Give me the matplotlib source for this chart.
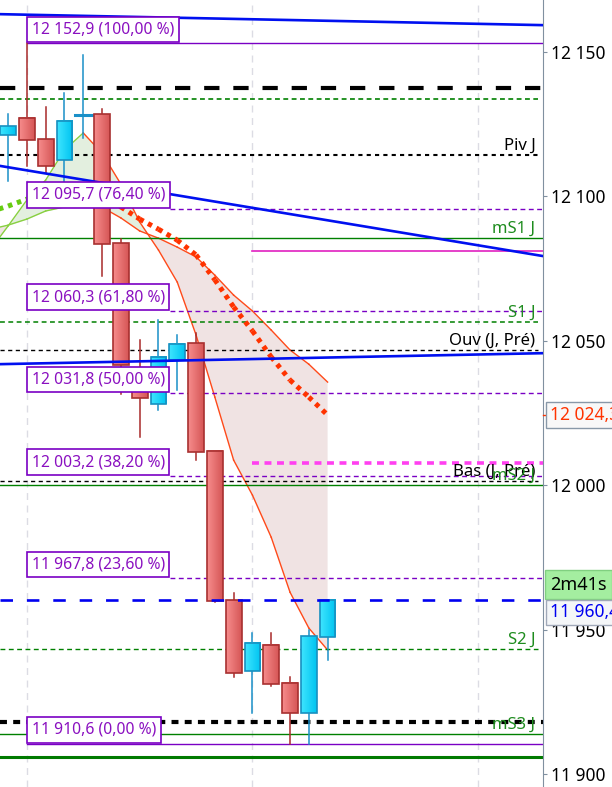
import matplotlib.pyplot as plt
import numpy as np
from matplotlib.patches import Rectangle
from matplotlib.colors import LinearSegmentedColormap

plt.rcParams['font.family'] = ['Noto Sans', 'DejaVu Sans']
plt.rcParams['lines.scale_dashes'] = False

# candles (one bar per index)
opens = [12121.2, 12127.1, 12119.8, 12112.5, 12128.0, 12128.4, 12083.8, 12032.6, 12028.1,
         12043.3, 12049.2, 12011.8, 11960.2, 11935.7, 11944.7, 11931.6, 11921.2, 11947.5]
highs = [12128.4, 12152.9, 12130.9, 12135.7, 12148.9, 12130.2, 12085.2, 12050.2, 12057.2,
         12052.0, 12052.7, 12011.8, 11962.7, 11948.9, 11948.9, 11933.6, 11949.9, 11960.4]
lows = [12105.3, 12110.5, 12108.0, 12104.6, 12120.1, 12072.4, 12031.5, 12016.7, 12026.0,
        12032.9, 12008.7, 11959.5, 11933.6, 11921.2, 11930.5, 11910.6, 11910.6, 11939.5]
closes = [12124.3, 12119.4, 12110.5, 12126.0, 12128.2, 12083.5, 12041.6, 12030.2, 12044.4,
          12048.9, 12011.5, 11959.9, 11935.0, 11945.4, 11931.2, 11921.2, 11947.8, 11960.4]

# band lines (index -1 .. 17)
band_idx = list(range(-1, 18))
fast = [12081.0, 12089.7, 12098.7, 12105.6, 12116.0, 12121.9, 12114.9, 12104.2, 12091.1, 12081.4,
        12070.3, 12052.0, 12030.5, 12008.7, 11996.6, 11982.0, 11963.0, 11950.6, 11943.0]
slow = [12088.5, 12090.0, 12092.1, 12094.9, 12096.3, 12097.0, 12096.2, 12092.5, 12088.0, 12085.5,
        12082.4, 12079.0, 12072.7, 12065.8, 12060.3, 12053.7, 12046.8, 12041.9, 12035.7]
ma = [12094.5, 12096.6, 12099.0, 12100.4, 12101.1, 12100.8, 12099.0, 12096.3, 12092.1, 12088.6,
      12084.8, 12079.7, 12071.1, 12061.7, 12053.4, 12044.4, 12036.4, 12030.5, 12024.3]

# fibonacci levels
fib_values = [12152.9, 12095.7, 12060.3, 12031.8, 12003.2, 11967.8, 11910.6]
fib_pcts = ["100,00", "76,40", "61,80", "50,00", "38,20", "23,60", "0,00"]

# pivot levels with labels
piv_labels = ["Piv J", "mS1 J", "S1 J", "Ouv (J, Pré)", "Bas (J, Pré)", "mS2 J", "S2 J", "mS3 J"]
piv_values = [12114.3, 12085.4, 12056.5, 12046.8, 12001.5, 12000.1, 11943.3, 11913.9]

# other horizontal levels
black_thick = [12137.4, 11918.0]
green_dash = 12133.5
green_thick = 11905.9
magenta_solid = 12081.0
magenta_dash = 12007.6
last_price = 11960.4
timer_text = "2m41s"

# trend lines: prices at left and right edges
trend_left = [12163.0, 12110.5, 12041.9]
trend_right = [12159.2, 12079.3, 12045.7]

yticks = [11900, 11950, 12000, 12050, 12100, 12150]

x0, x1 = -0.43, 28.46
fig = plt.figure(figsize=(6.12, 7.87), dpi=100)
ax = fig.add_axes([0, 0, 543 / 612, 1])


def fmt(v, dec=0):
    return f"{v:,.{dec}f}".replace(",", " ").replace(".", ",")


# vertical grid
for gx in [1, 13, 25]:
    ax.axvline(gx, color="#DCDCE4", lw=1, dashes=(5, 4), zorder=0)

# band fill + lines
bi = np.array(band_idx, float)
f = np.array(fast)
s = np.array(slow)
ax.fill_between(bi, f, s, where=f >= s, interpolate=True, color="#E3EFDF", lw=0, zorder=1)
ax.fill_between(bi, f, s, where=f < s, interpolate=True, color="#F0E3E3", lw=0, zorder=1)
for arr in [fast, slow]:
    for j in range(len(arr) - 1):
        col = "#88D040" if arr[j + 1] >= arr[j] else "#FF4A1A"
        ax.plot(bi[j:j + 2], arr[j:j + 2], color=col, lw=1.0, zorder=2)

# fib lines
purple = "#7A00C4"
for k, v in enumerate(fib_values):
    if k in (0, len(fib_values) - 1):
        ax.plot([1, x1], [v, v], color=purple, lw=1.0, zorder=2)
    else:
        ax.plot([8.6, x1], [v, v], color=purple, lw=1.0, dashes=(3.5, 2.5), zorder=2)

# horizontal levels
ax.plot([x0, x1], [black_thick[0]] * 2, color="black", lw=3.0, dashes=(11, 10), zorder=2)
ax.plot([x0, x1], [black_thick[1]] * 2, color="black", lw=3.0, dashes=(5, 4.5), zorder=2)
ax.plot([x0, 28.2], [green_dash] * 2, color="#008000", lw=1.2, dashes=(3.5, 2.5), zorder=2)
ax.plot([x0, x1], [green_thick] * 2, color="#007A00", lw=2.2, zorder=2)
ax.plot([13, x1], [magenta_solid] * 2, color="#E020C0", lw=1.2, zorder=2)
ax.plot([13, x1], [magenta_dash] * 2, color="#FF40F0", lw=2.6, dashes=(5, 4), zorder=2)

piv_styles = [
    ("black", 1.5, (3, 3)),
    ("#008000", 1.0, None),
    ("#008000", 1.1, (3.5, 2.5)),
    ("black", 1.0, (3, 2.5)),
    ("black", 1.0, (3, 2.5)),
    ("#008000", 1.0, None),
    ("#008000", 1.0, (3.5, 2.5)),
    ("#008000", 1.0, None),
]
for lab, v, (col, lw, ds) in zip(piv_labels, piv_values, piv_styles):
    kw = {} if ds is None else {"dashes": ds}
    end = x1 if ds is None else 28.2
    ax.plot([x0, end], [v, v], color=col, lw=lw, zorder=2, **kw)
    tcol = "black" if col == "black" else "#1E8C1E"
    ax.annotate(lab, xy=(28.05, v), xytext=(0, 1.0), textcoords="offset points",
                ha="right", va="bottom", fontsize=12, color=tcol, zorder=3)

# candles
red_cm = LinearSegmentedColormap.from_list("r", ["#F68C8C", "#D65656"])
cyan_cm = LinearSegmentedColormap.from_list("c", ["#3EE4FF", "#00C4F0"])
grad = np.linspace(0, 1, 32).reshape(1, -1)
w = 0.42
for i, (o, h, l, c) in enumerate(zip(opens, highs, lows, closes)):
    up = c >= o
    wick = "#1A90C8" if up else "#A82A2A"
    ax.plot([i, i], [l, h], color=wick, lw=1.1, zorder=3)
    lo, hi = min(o, c), max(o, c)
    if hi - lo < 1:
        ax.plot([i - 0.45, i + 0.45], [o, o], color="#1A90C8", lw=2.2, zorder=4)
        continue
    ax.imshow(grad, extent=[i - w, i + w, lo, hi], cmap=cyan_cm if up else red_cm,
              aspect="auto", zorder=4, interpolation="bilinear")
    ax.add_patch(Rectangle((i - w, lo), 2 * w, hi - lo, fill=False,
                           edgecolor="#1890C0" if up else "#A83030", lw=1.2, zorder=4.1))

# dotted moving average
for j in range(len(ma) - 1):
    col = "#66CC11" if ma[j + 1] >= ma[j] else "#FF3300"
    ax.plot(bi[j:j + 2], ma[j:j + 2], color=col, lw=3.6, dashes=(3.2, 3.6), zorder=5)

# last price line
ax.plot([x0, x1], [last_price] * 2, color="#0000F0", lw=1.9, dashes=(9, 10), zorder=6)

# trend lines
for a, b in zip(trend_left, trend_right):
    ax.plot([x0, x1], [a, b], color="#0010F0", lw=1.9, zorder=6)

# fib label boxes
for v, p in zip(fib_values, fib_pcts):
    ax.annotate(f"{fmt(v, 1)} ({p} %)", xy=(1, v), xytext=(3.4, 4.2), textcoords="offset points",
                ha="left", va="bottom", fontsize=11.3, color="#8A10C0", zorder=7,
                bbox=dict(boxstyle="square,pad=0.3", fc="white", ec=purple, lw=1.2))

# axes styling
ax.set_xlim(x0, x1)
ax.set_ylim(11895.6, 12167.9)
ax.yaxis.tick_right()
ax.set_yticks(yticks)
ax.set_yticklabels([fmt(t) for t in yticks])
ax.tick_params(axis="y", length=3, color="#8090A0", pad=3, labelsize=12.5, labelcolor="black")
for lbl in ax.get_yticklabels():
    if lbl.get_text() == "12 000":
        lbl.set_fontweight("bold")
ax.set_xticks([])
for sp in ["left", "top", "bottom"]:
    ax.spines[sp].set_visible(False)
ax.spines["right"].set_color("#8090A0")

# right side value boxes
ax.plot([1, 1.008], [ma[-1]] * 2, color="#FF3300", lw=1, transform=ax.get_yaxis_transform(),
        clip_on=False, zorder=9)
ax.annotate(fmt(ma[-1], 1), xy=(1, ma[-1]), xycoords=("axes fraction", "data"),
            xytext=(5, 0), textcoords="offset points", ha="left", va="center",
            fontsize=12.5, color="#FF3300", annotation_clip=False, zorder=10,
            bbox=dict(boxstyle="square,pad=0.25", fc="#F8F8F8", ec="#8898A8", lw=1))
ax.annotate(timer_text, xy=(1, 11965.6), xycoords=("axes fraction", "data"),
            xytext=(5, 0), textcoords="offset points", ha="left", va="center",
            fontsize=13, fontweight="bold", color="black", annotation_clip=False, zorder=10,
            bbox=dict(boxstyle="square,pad=0.3", fc="#A4EEA0", ec="#80D080", lw=1))
ax.annotate(fmt(last_price, 1), xy=(1, 11956.0), xycoords=("axes fraction", "data"),
            xytext=(5, 0), textcoords="offset points", ha="left", va="center",
            fontsize=12.5, fontweight="bold", color="#0000F0", annotation_clip=False, zorder=10,
            bbox=dict(boxstyle="square,pad=0.2", fc="#F4F6F8", ec="#A0A8B8", lw=1))

fig.savefig("out.png", dpi=100)
